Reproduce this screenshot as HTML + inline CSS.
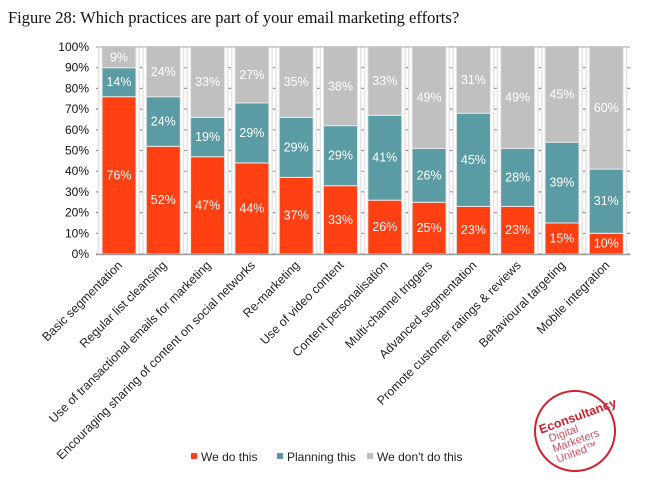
<!DOCTYPE html>
<html><head><meta charset="utf-8"><style>
html,body{margin:0;padding:0;background:#fff;width:645px;height:492px;overflow:hidden}
</style></head><body>
<svg width="645" height="492" xmlns="http://www.w3.org/2000/svg" font-family="Liberation Sans, sans-serif">
<text x="8" y="23" font-family="Liberation Serif, serif" font-size="16.5" fill="#111">Figure 28: Which practices are part of your email marketing efforts?</text>
<g id="grid" stroke="#8a8a8a" stroke-width="1.2"></g>
<g id="bars"></g>
<g id="ylab" font-size="12" fill="#111" text-anchor="end"></g>
<g id="xlab" font-size="12.3" fill="#222" text-anchor="end"></g>
<line x1="96" y1="254.5" x2="630" y2="254.5" stroke="#999" stroke-width="1.5"/>
<line x1="96" y1="47" x2="630" y2="47" stroke="#bbb" stroke-width="1"/>
<g font-size="12" fill="#222">
<rect x="191" y="453" width="6" height="6" fill="#FF4013"/><text x="201" y="461">We do this</text>
<rect x="277" y="453" width="6" height="6" fill="#5B9BA3"/><text x="287" y="461">Planning this</text>
<rect x="367" y="453" width="6" height="6" fill="#C0C0C0"/><text x="377" y="461">We don't do this</text>
</g>
<g transform="translate(575,431)">
<circle r="40" fill="none" stroke="#D0202E" stroke-width="2"/>
<g transform="rotate(-20)" fill="#D0202E">
<text x="-33" y="-9" font-size="12.5" font-weight="bold">Econsultancy</text>
<text x="-27" y="2" font-size="11" fill="#D85060">Digital</text>
<text x="-27" y="13" font-size="11" fill="#D85060">Marketers</text>
<text x="-27" y="24" font-size="11" fill="#D85060">United™</text>
</g>
</g>
</svg>
<script>
const d=[["Basic segmentation",76,14,10,"9%"],["Regular list cleansing",52,24,24],["Use of transactional emails for marketing",47,19,34,"33%"],["Encouraging sharing of content on social networks",44,29,27],["Re-marketing",37,29,34,"35%"],["Use of video content",33,29,38],["Content personalisation",26,41,33],["Multi-channel triggers",25,26,49],["Advanced segmentation",23,45,32,"31%"],["Promote customer ratings & reviews",23,28,49],["Behavioural targeting",15,39,46,"45%"],["Mobile integration",10,31,59,"60%"]];
const ns="http://www.w3.org/2000/svg";
const y0=254,k=2.07,bw=34;
const g=document.getElementById('bars'),gr=document.getElementById('grid'),yl=document.getElementById('ylab'),xl=document.getElementById('xlab');
function el(p,t,a,txt){const e=document.createElementNS(ns,t);for(const i in a)e.setAttribute(i,a[i]);if(txt!=null)e.textContent=txt;p.appendChild(e);return e;}
for(let i=0;i<=10;i++){const y=y0-i*10*k;el(yl,'text',{x:89,y:y+4},i*10+'%');el(gr,'line',{x1:96,x2:630,y1:y,y2:y});}
d.forEach((r,i)=>{const cx=119+i*44.3,x=cx-bw/2;let acc=0;
const cols=["#FF4013","#5B9BA3","#C0C0C0"];
const labs=[r[1]+'%',r[2]+'%',r[4]||r[3]+'%'];
el(g,'rect',{x:x-3,y:47,width:bw+6,height:207,fill:"#fff"});
el(g,'rect',{x:x-4,y:47,width:1.5,height:207,fill:"#e4e4e4"});
el(g,'rect',{x:x+bw+2.5,y:47,width:1.5,height:207,fill:"#e4e4e4"});
for(let j=0;j<3;j++){let v=r[j+1];if(acc+v>100)v=100-acc;const yt=y0-(acc+v)*k,h=v*k;
el(g,'rect',{x:x,y:yt,width:bw,height:h,fill:cols[j],stroke:"#e8e8e8","stroke-width":1});
el(g,'text',{x:cx,y:yt+h/2+4,"font-size":12.5,fill:"#fff","text-anchor":"middle"},labs[j]);acc+=v;}
el(xl,'text',{x:cx+4,y:266,transform:`rotate(-45 ${cx+4} 266)`},r[0]);
});
</script>
</body></html>
